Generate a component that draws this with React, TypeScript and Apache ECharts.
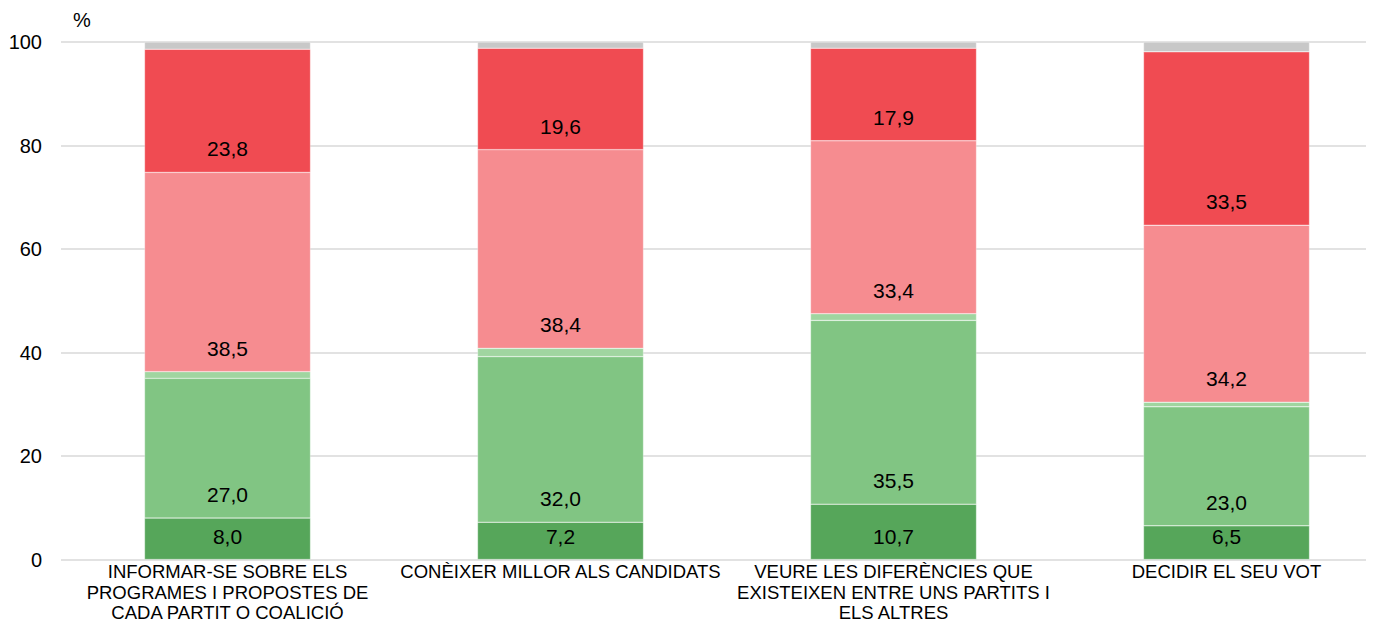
import React, { useEffect, useRef } from "react";
import * as echarts from "echarts";

const categories = [
  "INFORMAR-SE SOBRE ELS\nPROGRAMES I PROPOSTES DE\nCADA PARTIT O COALICIÓ",
  "CONÈIXER MILLOR ALS CANDIDATS",
  "VEURE LES DIFERÈNCIES QUE\nEXISTEIXEN ENTRE UNS PARTITS I\nELS ALTRES",
  "DECIDIR EL SEU VOT",
];
const darkGreen = [8.0, 7.2, 10.7, 6.5];
const green = [27.0, 32.0, 35.5, 23.0];
const lightGreen = [1.3, 1.6, 1.3, 0.9];
const pink = [38.5, 38.4, 33.4, 34.2];
const red = [23.8, 19.6, 17.9, 33.5];
const gray = [1.4, 1.2, 1.2, 1.9];
const yTicks = [0, 20, 40, 60, 80, 100];

const FONT = "Liberation Sans, Arial, sans-serif";

export default function App() {
  const ref = useRef<HTMLDivElement>(null);
  useEffect(() => {
    if (!ref.current) return;
    const chart = echarts.init(ref.current, undefined, { renderer: "svg" });
    const label = {
      show: true,
      position: "insideBottom",
      distance: 13,
      color: "#000",
      fontSize: 21,
      fontFamily: FONT,
      formatter: (p: any) => Number(p.value).toFixed(1).replace(".", ","),
    };
    const mk = (name: string, data: number[], color: string, withLabel: boolean) => ({
      name,
      type: "bar",
      stack: "total",
      data,
      barWidth: 166,
      itemStyle: { color, borderColor: "rgba(255,255,255,0.6)", borderWidth: 0.5 },
      label: withLabel ? label : { show: false },
      emphasis: { disabled: true },
    });
    chart.setOption({
      animation: false,
      textStyle: { fontFamily: FONT },
      grid: { left: 61, top: 42, width: 1332, height: 521, containLabel: false },
      xAxis: {
        type: "category",
        data: categories,
        axisLine: { show: false },
        axisTick: { show: false },
        axisLabel: {
          interval: 0,
          margin: 2,
          color: "#000",
          fontSize: 18.5,
          lineHeight: 20.5,
          fontFamily: FONT,
          align: "center",
        },
      },
      yAxis: {
        type: "value",
        min: 0,
        max: yTicks[yTicks.length - 1],
        interval: 20,
        axisLine: { show: false },
        axisTick: { show: false },
        axisLabel: { color: "#000", fontSize: 20, margin: 19, fontFamily: FONT },
        splitLine: { lineStyle: { color: "#d9d9d9", width: 1.5 } },
      },
      graphic: [
        {
          type: "rect",
          left: 1366,
          top: 0,
          shape: { width: 40, height: 623 },
          style: { fill: "#fff" },
          z: 100,
        },
        {
          type: "text",
          left: 73,
          top: 10,
          style: { text: "%", fontSize: 20, fill: "#000", fontFamily: FONT },
          z: 100,
        },
      ],
      series: [
        mk("s1", darkGreen, "#56A65A", true),
        mk("s2", green, "#81C583", true),
        mk("s3", lightGreen, "#A0D5A0", false),
        mk("s4", pink, "#F68C90", true),
        mk("s5", red, "#F04B52", true),
        mk("s6", gray, "#C8C8C8", false),
      ],
    });
    return () => chart.dispose();
  }, []);
  return (
    <div
      style={{
        position: "absolute",
        left: 0,
        top: 0,
        width: 1377,
        height: 623,
        overflow: "hidden",
      }}
    >
      <div ref={ref} style={{ width: 1400, height: 623 }} />
    </div>
  );
}
